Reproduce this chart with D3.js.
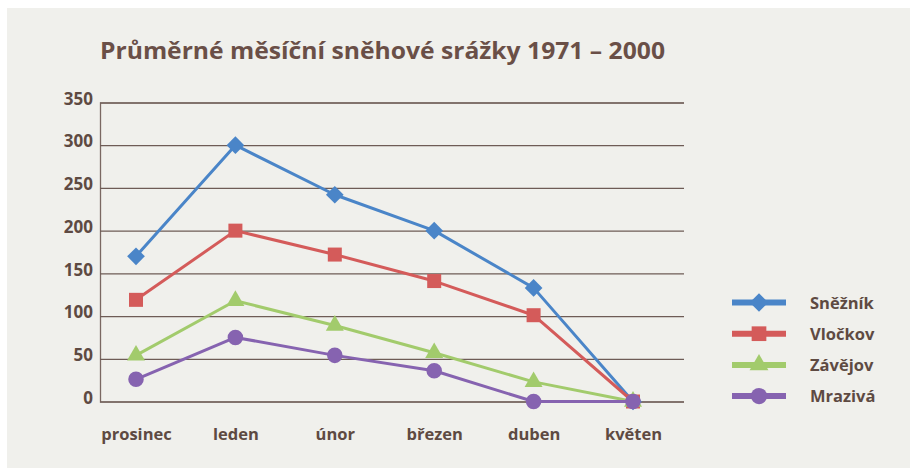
<!DOCTYPE html>
<html>
<head>
<meta charset="utf-8">
<script src="https://cdn.jsdelivr.net/npm/d3@7"></script>
<style>
  html, body { margin: 0; padding: 0; background: #ffffff; }
  svg { display: block; }
  text { font-family: "Open Sans", "Noto Sans", sans-serif; font-weight: 700; }
</style>
</head>
<body>
<svg id="chart" width="910" height="468"></svg>
<script>
// Average monthly snowfall per station, December to May
const months = ["prosinec", "leden", "únor", "březen", "duben", "květen"];
const snezník = [170, 300, 242, 200, 133, 0];
const vlockov = [119, 200, 172, 141, 101, 0];
const zavejov = [54, 118, 89, 57, 23, 0];
const mraziva = [26, 75, 54, 36, 0, 0];
const seriesNames = ["Sněžník", "Vločkov", "Závějov", "Mrazivá"];
const yTicks = [0, 50, 100, 150, 200, 250, 300, 350];
const titleText = "Průměrné měsíční sněhové srážky 1971 – 2000";

const seriesData = [snezník, vlockov, zavejov, mraziva];
const colors = ["#4a85c8", "#d45b5a", "#a2cb6c", "#8663b0"];
const symbols = [d3.symbolDiamond2, d3.symbolSquare2, d3.symbolTriangle, d3.symbolCircle];
const symbolSizes = [200, 250, 140, 190];
const textColor = "#5e4a42";

const svg = d3.select("#chart");

// Panel background
svg.append("rect").attr("x", 7).attr("y", 8).attr("width", 903).attr("height", 460)
  .attr("fill", "#f0f0ec");

// Title
svg.append("text")
  .attr("x", 100).attr("y", 59)
  .attr("fill", "#6a4f47")
  .attr("font-size", 24)
  .attr("textLength", 565)
  .attr("lengthAdjust", "spacingAndGlyphs")
  .text(titleText);

const plotLeft = 100, plotRight = 684;
const x = d3.scalePoint().domain(months).range([136, 633]);
const y = d3.scaleLinear().domain([0, 350]).range([401.5, 102.5]);

// Horizontal gridlines and value labels
const yAxis = d3.axisLeft(y).tickValues(yTicks).tickSize(-(plotRight - plotLeft)).tickPadding(7);
const gy = svg.append("g").attr("transform", `translate(${plotLeft},0)`).call(yAxis);
gy.select(".domain").attr("stroke", "#7a6862").attr("stroke-width", 1.3);
gy.selectAll(".tick line").attr("stroke", "#6e5c56").attr("stroke-width", 1.2);
gy.selectAll(".tick text")
  .attr("fill", textColor).attr("font-size", 17)
  .attr("font-family", "'Open Sans', sans-serif").attr("font-weight", 700)
  .attr("dy", "0.1em");

// Category labels
const xAxis = d3.axisBottom(x).tickSize(0).tickPadding(0);
const gx = svg.append("g").attr("transform", "translate(0,401.5)").call(xAxis);
gx.select(".domain").remove();
gx.selectAll(".tick text")
  .attr("fill", textColor).attr("font-size", 16.5)
  .attr("font-family", "'Open Sans', sans-serif").attr("font-weight", 700)
  .attr("dy", "0").attr("y", 38);

// Lines and markers
const line = d3.line().x((d, i) => x(months[i])).y(d => y(d));
seriesData.forEach((vals, s) => {
  const g = svg.append("g");
  g.append("path").datum(vals).attr("d", line)
    .attr("fill", "none").attr("stroke", colors[s]).attr("stroke-width", 3)
    .attr("stroke-linejoin", "round");
  g.selectAll("path.m").data(vals).enter().append("path").attr("class", "m")
    .attr("transform", (d, i) => `translate(${x(months[i])},${y(d)})`)
    .attr("d", d3.symbol().type(symbols[s]).size(symbolSizes[s]))
    .attr("fill", colors[s]);
});

// Legend
const legend = svg.append("g");
seriesNames.forEach((name, s) => {
  const ly = 302.5 + s * 31.2;
  legend.append("line").attr("x1", 732).attr("x2", 786).attr("y1", ly).attr("y2", ly)
    .attr("stroke", colors[s]).attr("stroke-width", 6);
  legend.append("path").attr("transform", `translate(759,${ly})`)
    .attr("d", d3.symbol().type(symbols[s]).size(symbolSizes[s] * 1.1))
    .attr("fill", colors[s]);
  legend.append("text").attr("x", 810).attr("y", ly + 6)
    .attr("fill", textColor).attr("font-size", 16.5).text(name);
});
</script>
</body>
</html>
